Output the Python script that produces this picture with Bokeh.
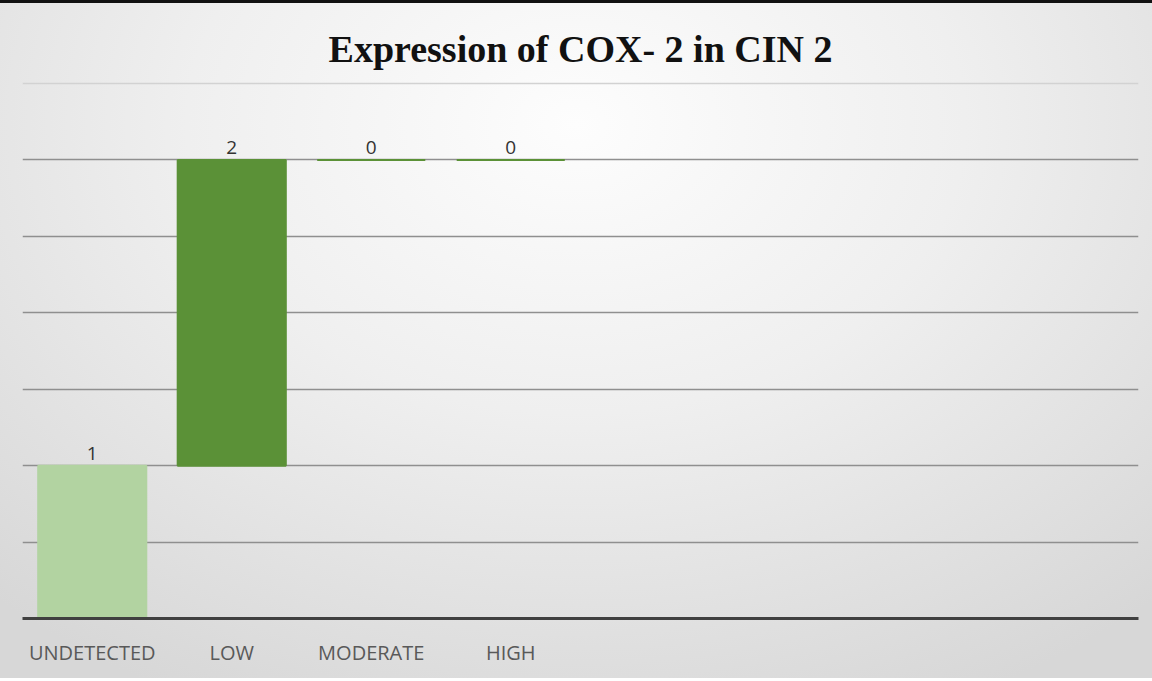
from bokeh.plotting import figure
from bokeh.models import FactorRange, ColumnDataSource, FixedTicker, Grid, Range1d
from bokeh.embed import file_html
from bokeh.resources import INLINE
from bokeh.core.properties import value
import numpy as np

# --- data ---
categories = ["UNDETECTED", "LOW", "MODERATE", "HIGH"]
values = [1, 2, 0, 0]
bar_colors = ["#b2d3a1", "#5b9137", "#5b9137", "#5b9137"]
empty_slots = [" ", "  ", "   ", "    "]  # unused category slots on the axis
grid_ticks = [0.5, 1.0, 1.5, 2.0, 2.5, 3.0]
top_grid = [3.5]

# waterfall: each step starts where the previous ended
tops = list(np.cumsum(values))
bottoms = [t - v for t, v in zip(tops, values)]

src = ColumnDataSource(dict(
    cat=categories, val=values, top=tops, bottom=bottoms,
    color=bar_colors, label=[str(v) for v in values],
))

p = figure(
    x_range=FactorRange(factors=categories + empty_slots, range_padding=0),
    y_range=Range1d(0, 3.52),
    width=1152, height=678,
    output_backend="svg", toolbar_location=None,
    min_border_left=22, min_border_right=14, min_border_top=77, min_border_bottom=63,
)
p.styles = {
    "background": "radial-gradient(ellipse 75% 95% at 50% 18%, #fdfdfd 0%, #efefef 45%, #d7d7d7 100%)",
    "border-top": "3px solid #111111",
}
p.background_fill_alpha = 0
p.border_fill_alpha = 0
p.outline_line_color = None

p.title.text = "Expression of COX- 2 in CIN 2"
p.title.align = "center"
p.title.text_font = "Liberation Serif"
p.title.text_font_style = "bold"
p.title.text_font_size = "38px"
p.title.text_color = "#111111"
p.title.standoff = 22
p.title.offset = 0

# grid
p.xgrid.visible = False
p.ygrid.visible = False
p.add_layout(Grid(dimension=1, ticker=FixedTicker(ticks=grid_ticks),
                  grid_line_color="#8f8f8f", grid_line_width=1.5))
p.add_layout(Grid(dimension=1, ticker=FixedTicker(ticks=top_grid),
                  grid_line_color="#d2d2d2", grid_line_width=1.5))

p.vbar(x="cat", top="top", bottom="bottom", width=0.775, source=src,
       fill_color="color", line_color="color", line_width=2)

p.text(x="cat", y="top", text="label", source=src,
       text_font=value("Open Sans"), text_font_size="19px", text_color="#333333",
       text_align="center", text_baseline="bottom", y_offset=-6)

p.yaxis.visible = False
ax = p.xaxis[0]
ax.axis_line_color = "#404040"
ax.axis_line_width = 3
ax.major_tick_line_color = None
ax.major_tick_out = 0
ax.minor_tick_line_color = None
ax.major_label_text_font = "Open Sans"
ax.major_label_text_font_size = "20px"
ax.major_label_text_color = "#595959"
ax.major_label_standoff = 20

open("out.html", "w").write(file_html(p, INLINE))
